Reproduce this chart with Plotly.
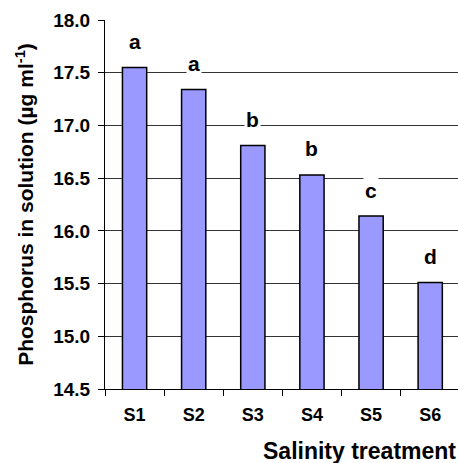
import plotly.graph_objects as go

categories = ["S1", "S2", "S3", "S4", "S5", "S6"]
values = [17.55, 17.34, 16.81, 16.53, 16.14, 15.51]
letters = ["a", "a", "b", "b", "c", "d"]
y_ticks = [14.5, 15.0, 15.5, 16.0, 16.5, 17.0, 17.5, 18.0]

FONT = "Liberation Sans, Arial, sans-serif"

fig = go.Figure()
fig.add_trace(go.Bar(
    x=categories, y=values, width=0.41,
    marker=dict(color="#9999FF", line=dict(color="black", width=1.5)),
    showlegend=False,
))

for c, v, l in zip(categories, values, letters):
    fig.add_annotation(
        x=c, y=v, text="<b>%s</b>" % l, showarrow=False,
        yshift=26, bgcolor="white", borderpad=1,
        font=dict(family=FONT, size=21, color="black"),
    )

fig.add_annotation(
    xref="paper", yref="paper", x=1.0, y=-0.167, xanchor="right", yanchor="middle",
    text="<b>Salinity treatment</b>", showarrow=False,
    font=dict(family=FONT, size=23, color="black"),
)

fig.update_layout(
    width=458, height=463,
    margin=dict(l=105, r=0, t=20, b=74),
    paper_bgcolor="white", plot_bgcolor="white",
    font=dict(family=FONT, color="black"),
    xaxis=dict(
        range=[-0.5, 5.47], tickson="boundaries", ticks="outside", ticklen=6,
        tickcolor="black", showline=True, linecolor="black", linewidth=1,
        showgrid=False, tickfont=dict(family=FONT, size=18, color="black"),
        tickvals=categories, ticktext=["<b>%s</b>" % c for c in categories],
        ticklabelstandoff=9,
    ),
    yaxis=dict(
        range=[14.5, 18.0], tickvals=y_ticks,
        ticktext=["<b>%.1f</b>" % t for t in y_ticks],
        ticks="outside", ticklen=6, tickcolor="black",
        showline=True, linecolor="black", linewidth=1,
        showgrid=True, gridcolor="#333333", gridwidth=1,
        tickfont=dict(family=FONT, size=19, color="black"),
        ticklabelstandoff=4,
        title=dict(text="<b>Phosphorus in solution (µg ml<sup>-1</sup>)</b>",
                   font=dict(family=FONT, size=21, color="black"), standoff=13),
        zeroline=False,
    ),
    bargap=0.59,
)

fig.write_html("out.html")
